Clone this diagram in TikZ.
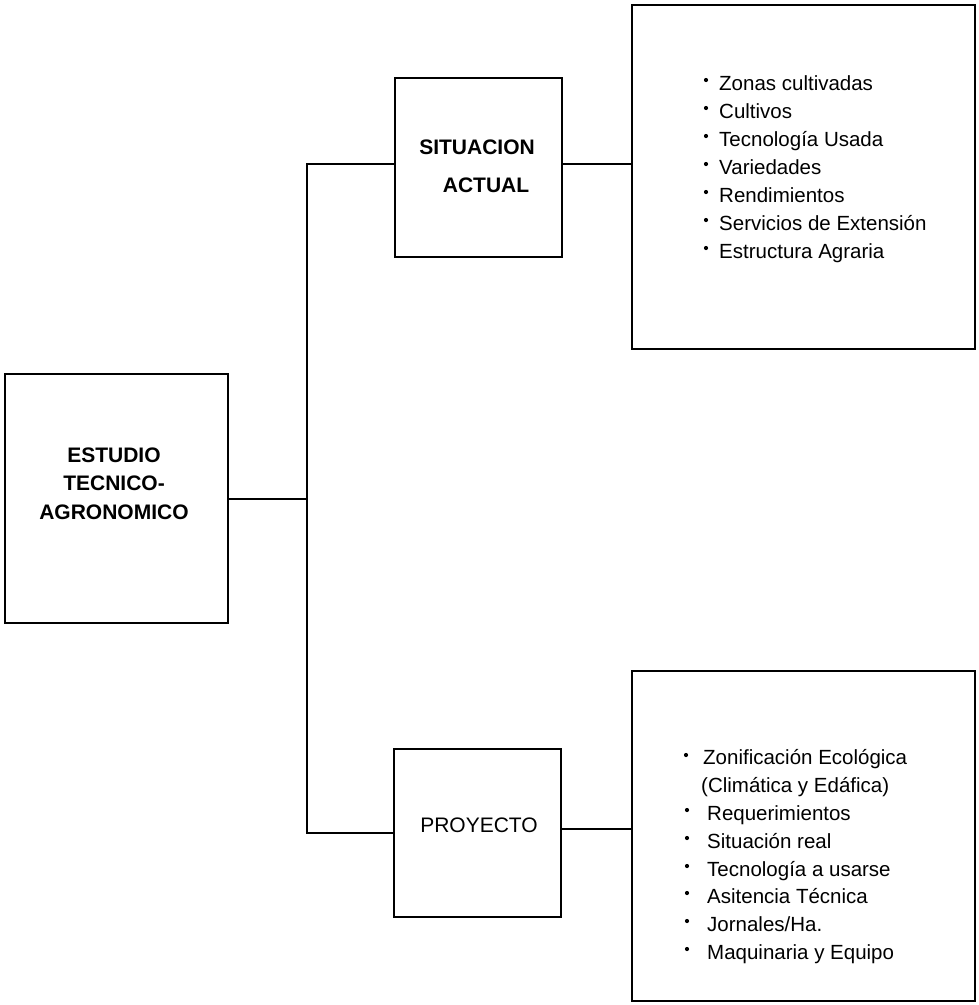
\documentclass[tikz,border=0pt]{standalone}
\usepackage{fontspec}
\setmainfont{Liberation Sans}
\begin{document}
\begin{tikzpicture}[x=1pt,y=-1pt,
  box/.style={draw, line width=2pt, rectangle, inner sep=0pt, outer sep=0pt},
  wire/.style={line width=2pt},
  head/.style={font=\fontsize{21}{25}\selectfont\bfseries, anchor=base, inner sep=0pt},
  plain/.style={font=\fontsize{21}{25}\selectfont, anchor=base, inner sep=0pt},
  entry/.style={font=\fontsize{20.5}{25}\selectfont, anchor=base west, inner sep=0pt},
  dotr/.style={radius=2.1pt}
]
\useasboundingbox (0,0) rectangle (979,1005);

% boxes
\node[box, minimum width=223pt, minimum height=249pt] (est) at (116.5,498.5) {};
\node[box, minimum width=167pt, minimum height=179pt] (sit) at (478.5,167.5) {};
\node[box, minimum width=167pt, minimum height=168pt] (pro) at (477.5,833) {};
\node[box, minimum width=343pt, minimum height=344pt] (lst1) at (803.5,177) {};
\node[box, minimum width=343pt, minimum height=330pt] (lst2) at (803.5,836) {};

% box titles
\node[head] (t1) at (114,462) {ESTUDIO};
\node[head] (t2) at (114,490.5) {TECNICO-};
\node[head] (t3) at (114,519) {AGRONOMICO};
\node[head] (s1) at (477,154) {SITUACION};
\node[head] (s2) at (486,192) {ACTUAL};
\node[plain] (p1) at (479,832) {PROYECTO};

% connectors
\coordinate (busmid) at (307,498.5);
\coordinate (bustop) at (307,164);
\coordinate (busbot) at (307,833);
\draw[wire] (est.east) -- (busmid);
\draw[wire] (bustop -| sit.west) -- (bustop) -- (busbot) -- (pro.west);
\coordinate (sitR) at ([yshift=4pt]sit.east);
\coordinate (proR) at ([yshift=4pt]pro.east);
\draw[wire] (sitR) -- (sitR -| lst1.west);
\draw[wire] (proR) -- (proR -| lst2.west);

% upper list
\foreach \t [count=\i from 0] in {Zonas cultivadas, Cultivos, Tecnología Usada,
    Variedades, Rendimientos, Servicios de Extensión, Estructura Agraria} {
  \node[entry] (a\i) at (719,90+28*\i) {\t};
  \fill (706,80+28*\i) circle[dotr];
}

% lower list
\node[entry] (b0) at (703,764) {Zonificación Ecológica};
\node[entry] (b1) at (701,792) {(Climática y Edáfica)};
\node[entry] (b2) at (707,820) {Requerimientos};
\node[entry] (b3) at (707,848) {Situación real};
\node[entry] (b4) at (707,876) {Tecnología a usarse};
\node[entry] (b5) at (707,903) {Asitencia Técnica};
\node[entry] (b6) at (707,931) {Jornales/Ha.};
\node[entry] (b7) at (707,959) {Maquinaria y Equipo};
\fill (686,755) circle[dotr];
\foreach \yy in {820,848,876,903,931,959} {
  \fill (687,\yy-10) circle[dotr];
}
\end{tikzpicture}
\end{document}
